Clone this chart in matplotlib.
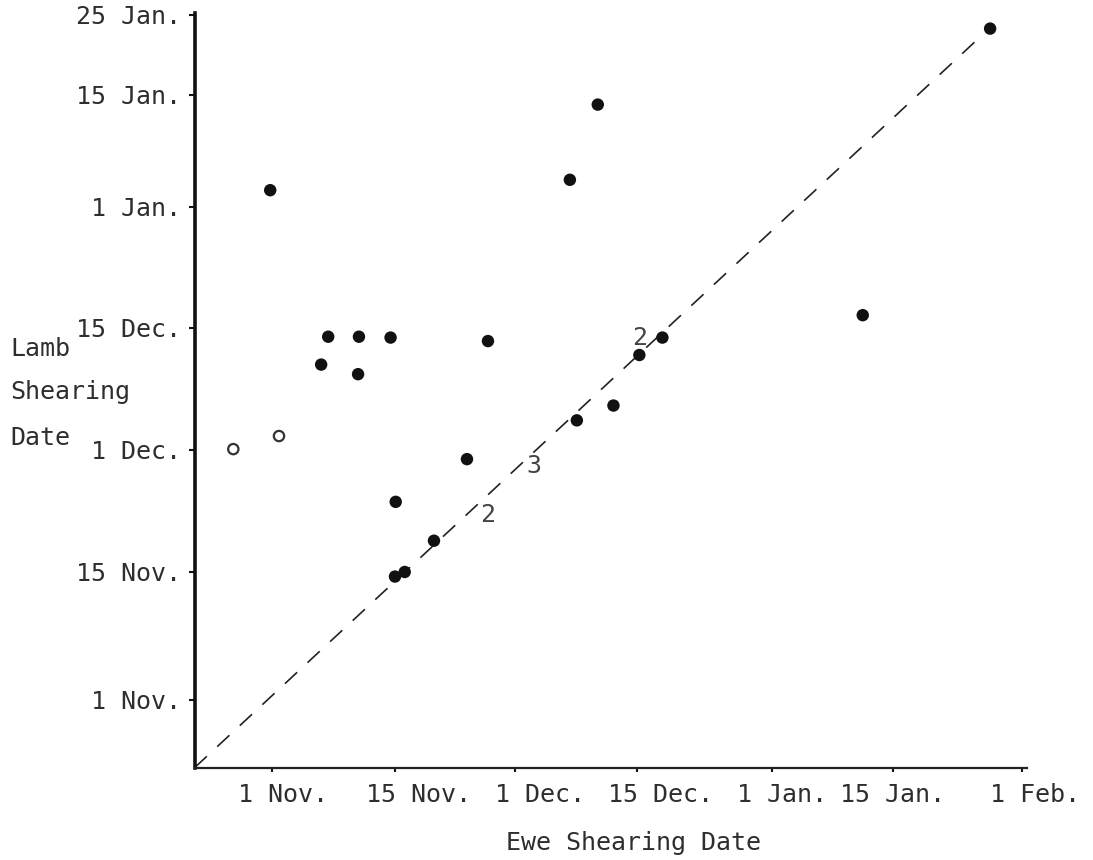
import matplotlib

matplotlib.use("Agg")
import matplotlib.pyplot as plt  # noqa: E402
import numpy as np  # noqa: E402
from matplotlib.transforms import ScaledTranslation  # noqa: E402

# All dates are stored as days after 1 November.
X_TICKS = [0, 14, 30, 44, 61, 75, 92]
X_LABELS = ["1 Nov.", "15 Nov.", "1 Dec.", "15 Dec.", "1 Jan.", "15 Jan.", "1 Feb."]
Y_TICKS = [0, 14, 30, 44, 61, 75, 85]
Y_LABELS = ["1 Nov.", "15 Nov.", "1 Dec.", "15 Dec.", "1 Jan.", "15 Jan.", "25 Jan."]

# flock records: ewe shearing date vs lamb shearing date
ewe_dates = [-0.2, 39.5, 36.3, 6.4, 9.9, 13.5, 26.4, 5.6, 9.8, 71.5,
             23.6, 14.1, 19.2, 14.0, 15.3, 37.1, 41.3, 44.3, 47.2, 87.8]
lamb_dates = [63.1, 73.8, 64.4, 43.0, 43.0, 42.9, 42.5, 39.8, 38.7, 45.8,
              28.8, 23.2, 18.1, 13.5, 14.0, 33.4, 35.1, 40.9, 42.9, 83.3]

# open symbols
open_ewe = [-4.4, 0.8]
open_lamb = [30.1, 31.6]

# stacked records drawn as a count
count_ewe = [26.3, 32.2, 44.3]
count_lamb = [21.5, 27.9, 42.9]
count_text = ["2", "3", "2"]

# reference line
line_ewe = [-8.8, 87.1]
line_lamb = [-7.4, 82.8]

# the hand-ruled axes are not evenly spaced in days: spacing of each tick
X_SPACING = [272, 395, 515, 637, 772, 893, 1022]
Y_SPACING = [-700, -572, -450, -328, -207, -95, -15]
X_LABEL_SHIFT = [11, 24, 25, 24, 10, 0, 13]   # px

FONT = "DejaVu Sans Mono"
TXT = "#2e2e2e"
W, H = 1093, 860


def ruled_scale(days, pos):
    """Piecewise-linear scale through the tick marks, extended at both ends."""
    days = np.asarray(days, float)
    pos = np.asarray(pos, float)
    s0 = (pos[1] - pos[0]) / (days[1] - days[0])
    s1 = (pos[-1] - pos[-2]) / (days[-1] - days[-2])
    d = np.r_[days[0] - 500, days, days[-1] + 500]
    p = np.r_[pos[0] - 500 * s0, pos, pos[-1] + 500 * s1]
    return (lambda v: np.interp(v, d, p)), (lambda v: np.interp(v, p, d))


plt.rcParams["font.family"] = FONT
fig = plt.figure(figsize=(W / 100, H / 100), dpi=100)
ax = fig.add_axes([195 / W, 1 - 768 / H, (1027 - 195) / W, (768 - 13) / H])
ax.set_xscale("function", functions=ruled_scale(X_TICKS, X_SPACING))
ax.set_yscale("function", functions=ruled_scale(Y_TICKS, Y_SPACING))

ax.plot(line_ewe, line_lamb, color="#222222", linewidth=1.2,
        linestyle=(0, (10, 8.5)), zorder=1)
ax.scatter(ewe_dates, lamb_dates, s=80, color="#111111", edgecolors="none", zorder=3)
ax.scatter(open_ewe, open_lamb, s=55, facecolors="none", edgecolors="#333333",
           linewidths=1.6, zorder=3)
for x, y, t in zip(count_ewe, count_lamb, count_text):
    ax.text(x, y, t, fontsize=18, color="#444444", ha="center", va="center")

ax.set_xlim(-8.76, 92.66)
ax.set_ylim(-7.44, 85.25)

ax.set_xticks(X_TICKS)
ax.set_xticklabels(X_LABELS)
ax.set_yticks(Y_TICKS)
ax.set_yticklabels(Y_LABELS)
ax.minorticks_off()
ax.tick_params(axis="both", labelsize=18, labelcolor=TXT, color="#111111",
               direction="out")
ax.tick_params(axis="y", length=4, width=1.5, pad=6)
ax.tick_params(axis="x", length=3, width=1.5, pad=8)
for lab, dx in zip(ax.get_xticklabels(), X_LABEL_SHIFT):
    lab.set_transform(lab.get_transform() + ScaledTranslation(dx / 100, 0, fig.dpi_scale_trans))

for side in ("top", "right"):
    ax.spines[side].set_visible(False)
ax.spines["left"].set_linewidth(2.6)
ax.spines["bottom"].set_linewidth(1.6)
ax.spines["left"].set_color("#111111")
ax.spines["bottom"].set_color("#222222")

# y-axis title, one word per line
for word, ypx in zip(["Lamb", "Shearing", "Date"], [349, 392, 438]):
    fig.text(10 / W, 1 - ypx / H, word, fontsize=18, color=TXT,
             ha="left", va="center")
fig.text(634 / W, 1 - 843 / H, "Ewe Shearing Date", fontsize=18, color=TXT,
         ha="center", va="center")

fig.savefig("out.png", dpi=100)
